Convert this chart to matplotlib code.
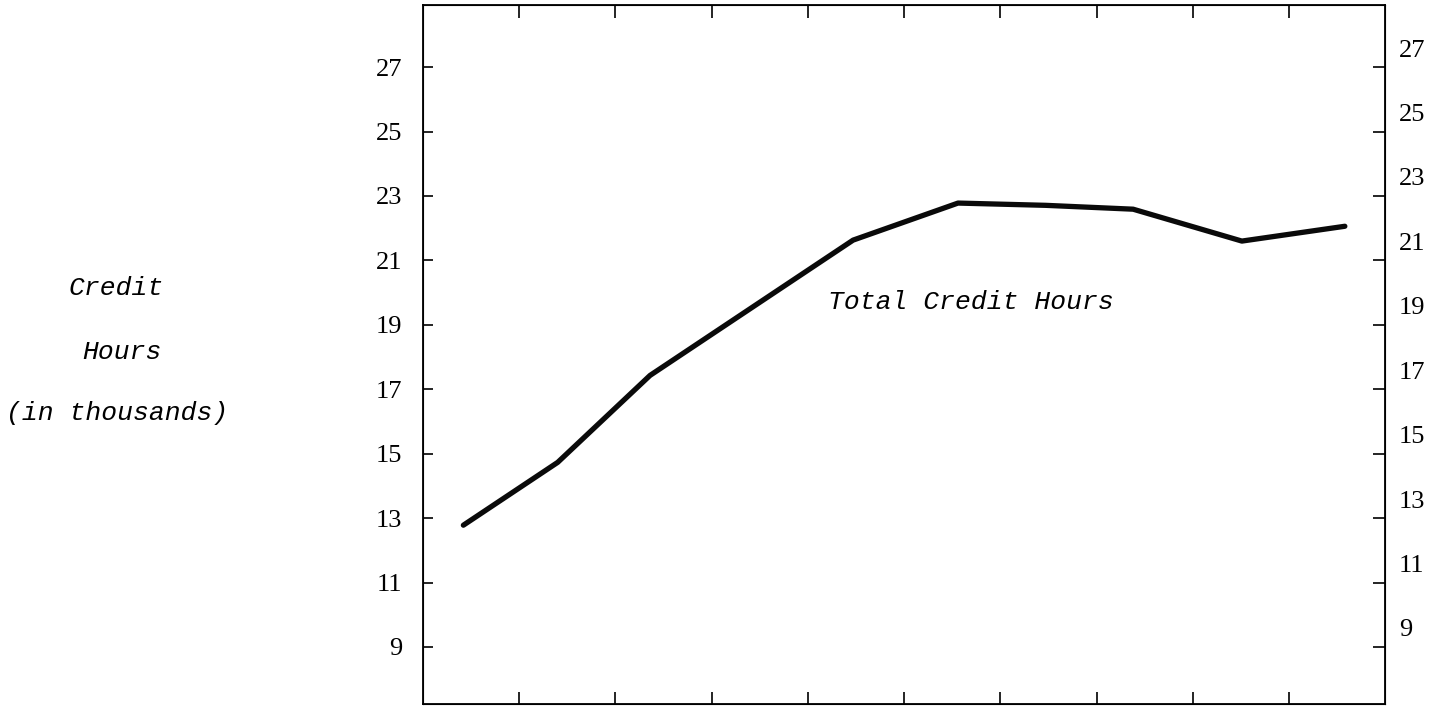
import matplotlib.pyplot as plt
import matplotlib.transforms as mtransforms

# positions along the year axis (one unit per interval) and credit hours in thousands
year_pos = [0.42, 1.40, 2.36, 4.47, 5.56, 6.47, 7.38, 8.51, 9.58]
credit_hours = [12.78, 14.73, 17.43, 21.63, 22.78, 22.71, 22.59, 21.60, 22.06]
y_ticks = [9, 11, 13, 15, 17, 19, 21, 23, 25, 27]
x_ticks = [1, 2, 3, 4, 5, 6, 7, 8, 9]

mono = ['Liberation Mono', 'DejaVu Sans Mono']
num_font = ['Liberation Serif', 'DejaVu Serif']

fig = plt.figure(figsize=(14.46, 7.10), dpi=100)
ax = fig.add_axes([0.2925, 0.0085, 0.6655, 0.9845])

ax.plot(year_pos, credit_hours, color='#0a0a0a', lw=3.8, solid_joinstyle='round',
        solid_capstyle='round')

ax.set_xlim(0, 10)
ax.set_ylim(7.23, 28.93)
ax.set_xticks(x_ticks)
ax.set_xticklabels([])
ax.set_yticks(y_ticks)
ax.set_yticklabels([str(v) for v in y_ticks], family=num_font, fontsize=19)

ax.tick_params(axis='x', direction='in', top=True, bottom=True, length=9, width=1.2)
ax.tick_params(axis='y', direction='in', left=True, right=False, length=7, width=1.2, pad=15)
for s in ax.spines.values():
    s.set_linewidth(1.3)

# right hand scale, labels sit a little above their ticks
ax2 = ax.twinx()
ax2.set_ylim(ax.get_ylim())
ax2.set_yticks(y_ticks)
ax2.set_yticklabels([str(v) for v in y_ticks], family=num_font, fontsize=19)
ax2.tick_params(axis='y', direction='in', length=9, width=1.2, pad=10)
offset = mtransforms.ScaledTranslation(0, 0.19, fig.dpi_scale_trans)
for lbl in ax2.yaxis.get_majorticklabels():
    lbl.set_transform(lbl.get_transform() + offset)

ax.text(5.69, 19.70, 'Total Credit Hours', family=mono, style='italic', fontsize=19,
        ha='center', va='center')

fig.text(0.080, 0.594, 'Credit', family=mono, style='italic', fontsize=19, ha='center', va='center')
fig.text(0.084, 0.504, 'Hours', family=mono, style='italic', fontsize=19, ha='center', va='center')
fig.text(0.081, 0.418, '(in thousands)', family=mono, style='italic', fontsize=19, ha='center', va='center')

fig.savefig('out.png', dpi=100)
